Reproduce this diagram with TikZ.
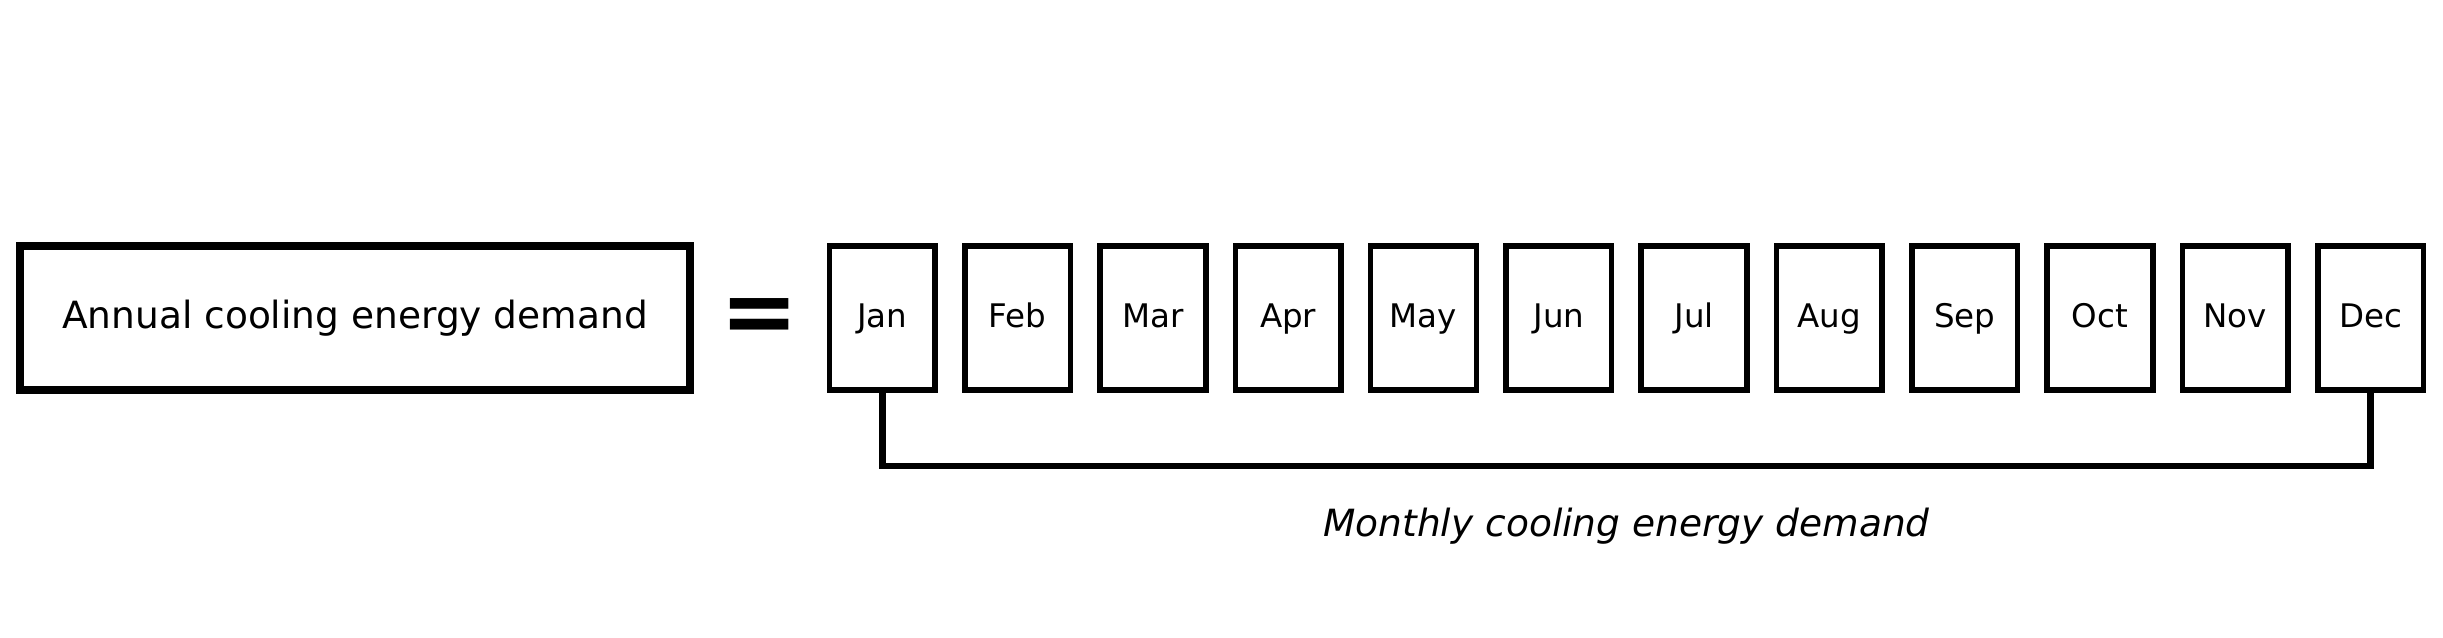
\documentclass[tikz,border=0pt]{standalone}
\usepackage{fontspec}
\setmainfont{DejaVu Sans}
\usetikzlibrary{calc}

\begin{document}
\begin{tikzpicture}[x=0.3pt,y=-0.3pt,
  yearbox/.style={draw,line width=2.4pt,minimum width=201pt,minimum height=43.2pt,inner sep=0pt,font=\fontsize{11.25}{13}\selectfont},
  monthbox/.style={draw,line width=1.68pt,minimum width=31.7pt,minimum height=43.2pt,inner sep=0pt,text height=0.55em,text depth=0pt,font=\fontsize{9.75}{11}\selectfont}]
  \useasboundingbox (0,0) rectangle (2443,637);

  %% Box for the whole year and the equals sign
  \node[yearbox] (ANNUAL) at (355,318) {Annual cooling energy demand};
  \node[font=\bfseries\fontsize{28}{30}\selectfont] (EQ) at (760,321) {=};

  %% Boxes for the twelve months
  \foreach \m [count=\i from 0] in {Jan,Feb,Mar,Apr,May,Jun,Jul,Aug,Sep,Oct,Nov,Dec}
  {
    \node[monthbox] (M\i) at (882.3+135.3*\i,318) {\m};
  }

  %% Bracket joining Jan and Dec
  \coordinate (BRL) at ($(M0.south)+(0,73)$);
  \coordinate (BRR) at ($(M11.south)+(0,73)$);
  \draw[line width=1.95pt] (M0.south) -- (BRL) -- (BRR) -- (M11.south);
  \node[anchor=base,font=\itshape\fontsize{11.25}{13}\selectfont] (MONTHLY) at ($(BRL)!0.5!(BRR)+(0,71)$) {Monthly cooling energy demand};
\end{tikzpicture}
\end{document}
